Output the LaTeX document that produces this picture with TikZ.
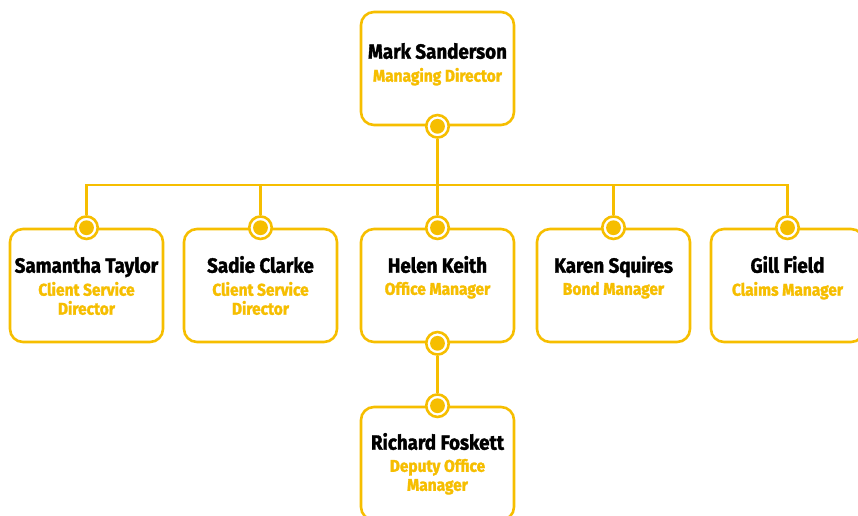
\documentclass[tikz,border=0pt]{standalone}
\usepackage{fontspec}
\newfontfamily\orgfont{Fira Sans}[FakeStretch=0.91,BoldFeatures={FakeBold=1.7}]
\usetikzlibrary{positioning,calc}
\definecolor{orgyellow}{RGB}{246,190,0}

\tikzset{
  staffbox/.style={draw=orgyellow,line width=2.6pt,rounded corners=13pt,fill=white,
    minimum width=153pt,minimum height=113pt,inner sep=0pt},
  namelbl/.style={inner sep=0pt,font=\orgfont\bfseries\fontsize{20.6}{24}\selectfont,text=black},
  rolelbl/.style={inner sep=0pt,align=center,text=orgyellow,
    font=\orgfont\bfseries\fontsize{17}{19}\selectfont},
  knob/.style={circle,draw=orgyellow,line width=2.6pt,fill=white,minimum size=22.5pt,inner sep=0pt,
    path picture={\fill[orgyellow] (path picture bounding box.center) circle (7.4pt);}},
  link/.style={draw=orgyellow,line width=2.6pt}
}

\newcommand{\staff}[5][45]{%
  \node[staffbox] (#2) at (#3) {};
  \node[namelbl,anchor=base] (#2-name) at ($(#2.north)+(0,-#1)$) {#4};
  \node[rolelbl,anchor=north] (#2-role) at ($(#2-name.base)+(0,-9)$) {#5};
}

\begin{document}
\begin{tikzpicture}[x=1pt,y=1pt]
\useasboundingbox (0,0) rectangle (858,-515);

% boxes
\staff[48]{mark}{437.5,-68.5}{Mark Sanderson}{Managing Director}
\staff{sam}{86.5,-285.5}{Samantha Taylor}{Client Service\\Director}
\staff{sadie}{260.5,-285.5}{Sadie Clarke}{Client Service\\Director}
\staff{helen}{437.5,-285.5}{Helen Keith}{Office Manager}
\staff{karen}{613.5,-285.5}{Karen Squires}{Bond Manager}
\staff{gill}{787.5,-285.5}{Gill Field}{Claims Manager}
\staff[44]{rich}{437.5,-463.5}{Richard Foskett}{Deputy Office\\Manager}

% knobs
\node[knob] (mark-k) at (mark.south) {};
\foreach \who in {sam,sadie,helen,karen,gill,rich}
  \node[knob] (\who-k) at (\who.north) {};
\node[knob] (helen-b) at (helen.south) {};

% links
\coordinate (bus) at (437.5,-185);
\draw[link] (mark-k) -- (helen-k);
\draw[link] (sam-k) |- (bus) -| (gill-k);
\draw[link] (sadie-k) -- (sadie-k |- bus);
\draw[link] (karen-k) -- (karen-k |- bus);
\draw[link] (helen-b) -- (rich-k);

\end{tikzpicture}
\end{document}
